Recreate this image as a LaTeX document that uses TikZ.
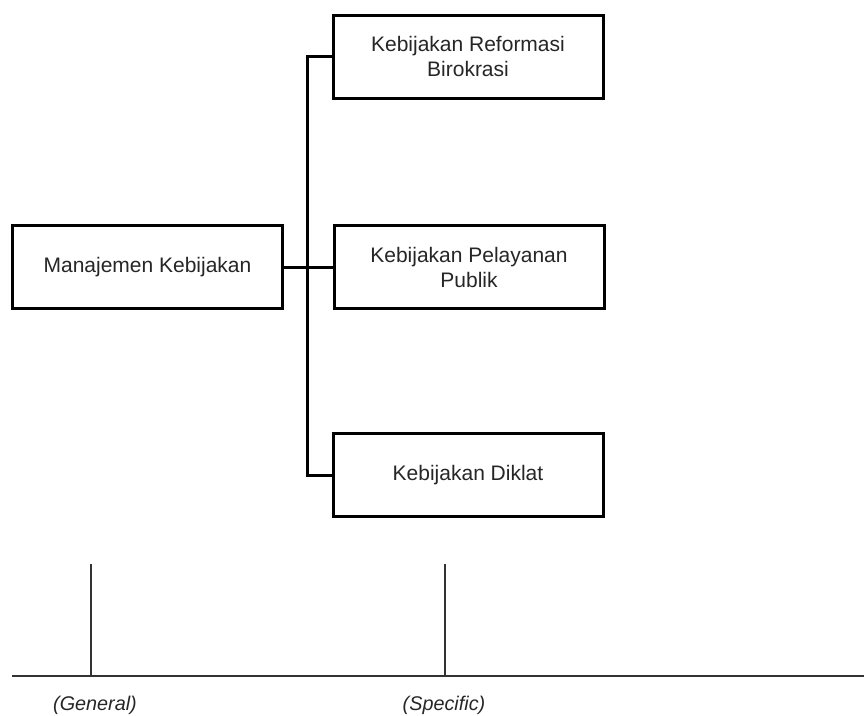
\documentclass[tikz,border=0pt]{standalone}
\usepackage{fontspec}
\setmainfont{Liberation Sans}
\begin{document}
\begin{tikzpicture}[x=1pt,y=-1pt,
  box/.style={draw=black,line width=3pt,fill=white,rectangle,
    minimum width=270pt,minimum height=83pt,align=center,
    font=\fontsize{21}{25}\selectfont,text=black!85},
  link/.style={draw=black,line width=3pt},
  axis/.style={draw=black!80,line width=1.1pt},
  pole/.style={font=\itshape\fontsize{19.8}{22}\selectfont,text=black!85}]
\useasboundingbox (0,0) rectangle (864,715);

% hierarchy of policies
\node[box] (mk) at (147.5,267) {Manajemen Kebijakan};
\node[box] (kr) at (468,56.5) {Kebijakan Reformasi\\Birokrasi};
\node[box] (kp) at (469,267) {Kebijakan Pelayanan\\Publik};
\node[box] (kd) at (468,475) {Kebijakan Diklat};

\coordinate (trunkTop) at (307,56.5);
\coordinate (trunkBot) at (307,475);
\draw[link] (kr.west) -- (trunkTop) -- (trunkBot) -- (kd.west);
\draw[link] (mk.east) -- (kp.west);

% general-to-specific scale
\coordinate (axL) at (12,676);
\coordinate (axR) at (864,676);
\coordinate (genTop) at (91,564);
\coordinate (genBot) at (91,676);
\coordinate (spcTop) at (445,564);
\coordinate (spcBot) at (445,676);
\draw[axis] (axL) -- (axR);
\draw[axis] (genTop) -- (genBot);
\draw[axis] (spcTop) -- (spcBot);
\node[pole] (gen) at (95,705) {(General)};
\node[pole] (spc) at (444,705) {(Specific)};
\end{tikzpicture}
\end{document}
